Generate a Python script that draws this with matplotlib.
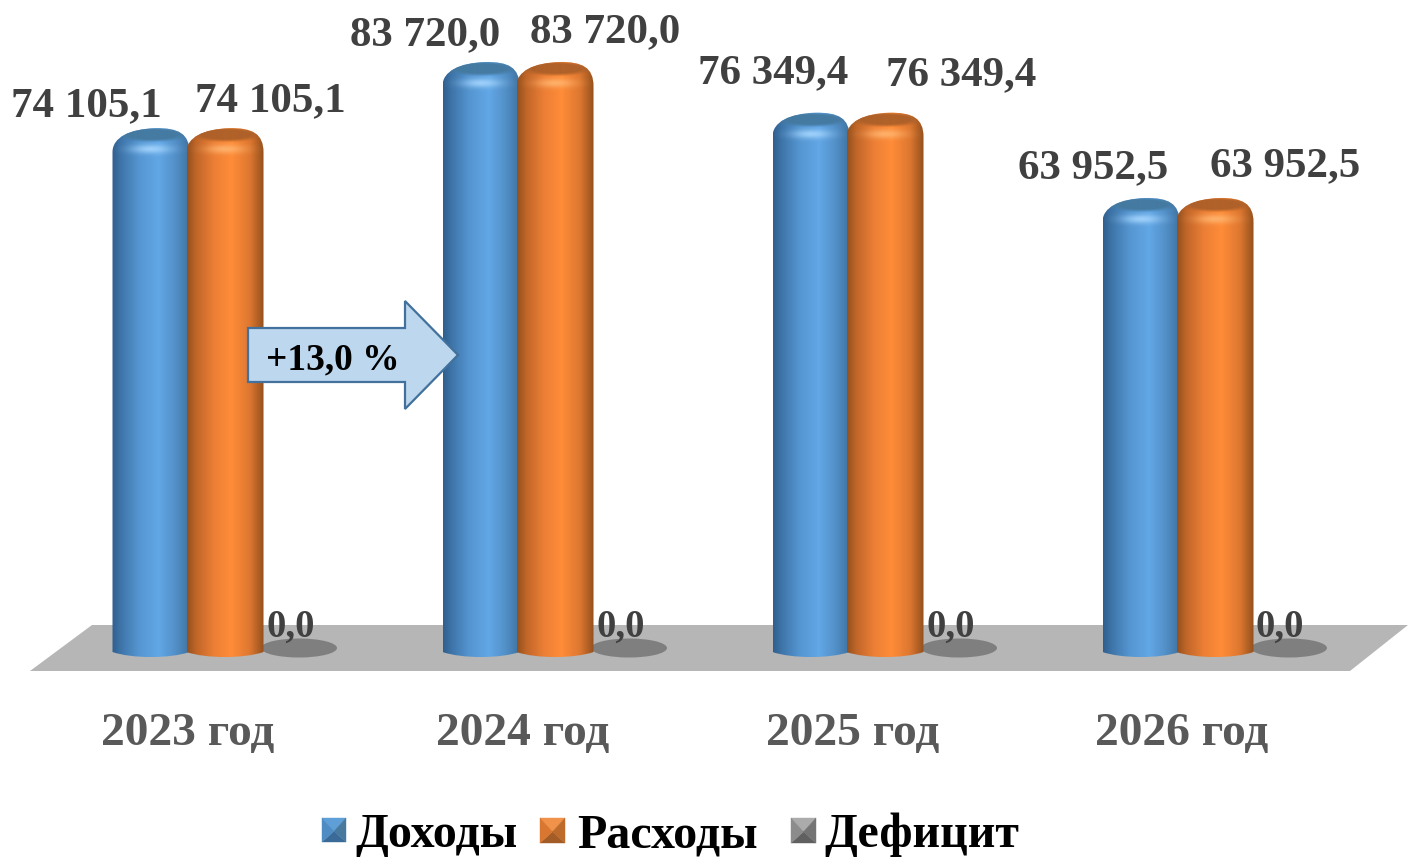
import numpy as np
import matplotlib
matplotlib.use("Agg")
import matplotlib.pyplot as plt
from matplotlib.path import Path
from matplotlib.patches import PathPatch, Polygon, Ellipse
from matplotlib.colors import LinearSegmentedColormap, to_rgb

years = ["2023 год", "2024 год", "2025 год", "2026 год"]
revenue = [74105.1, 83720.0, 76349.4, 63952.5]
expense = [74105.1, 83720.0, 76349.4, 63952.5]
deficit = [0.0, 0.0, 0.0, 0.0]
series_names = ["Доходы", "Расходы", "Дефицит"]
growth_label = "+13,0 %"

W, H = 1417, 859
PX_PER_VALUE = 0.00688
BASE_PY = 648
GROUP_PX = 330
ORIGIN_PX = 225

plt.rcParams["font.family"] = ["Liberation Serif", "DejaVu Serif"]
fig = plt.figure(figsize=(W / 100, H / 100), dpi=100)
ax = fig.add_axes([0, 0, 1, 1])
ax.set_xlim((0 - ORIGIN_PX) / GROUP_PX, (W - ORIGIN_PX) / GROUP_PX)
ax.set_ylim((BASE_PY - H) / PX_PER_VALUE, BASE_PY / PX_PER_VALUE)
ax.axis("off")

def dx(px):
    return px / GROUP_PX
def dy(px):
    return px / PX_PER_VALUE
def X(px):
    return (px - ORIGIN_PX) / GROUP_PX
def Y(py):
    return (BASE_PY - py) / PX_PER_VALUE
def pt(px):
    return px * 0.72

RX = 38.5
TOP_RISE = 10
SHOULDER = 24
BOTTOM_DROP = 9
BOTTOM_SIDE = 4

blue_cmap = LinearSegmentedColormap.from_list("b", [(0, "#2f5f8f"), (.12, "#3f76aa"), (.35, "#5596d2"), (.6, "#62a7e6"), (.82, "#528fc7"), (1, "#3f72a0")])
orange_cmap = LinearSegmentedColormap.from_list("o", [(0, "#95501c"), (.12, "#c0662a"), (.35, "#ec7f35"), (.58, "#ff8c38"), (.82, "#dd7730"), (1, "#93501d")])
CAP_BLUE = "#44799f"
CAP_ORANGE = "#ac6029"

def cylinder(xc, value, cmap, cap, z):
    r, rise = dx(RX), dy(TOP_RISE)
    top = value + rise
    sh = dy(SHOULDER)
    drop = dy(BOTTOM_DROP)
    side = dy(BOTTOM_SIDE)
    ctrl = -dy(10.7)
    peak = xc + dx(4)
    verts = [
        (xc - r, -side),
        (xc - r, top - sh),
        (xc - r, top - dy(9)), (xc - r * .55, top - dy(1)), (peak, top),
        (xc + r * .72, top + dy(.5)), (xc + r, top - dy(6)), (xc + r, top - sh),
        (xc + r, -side),
        (xc + r * .5, ctrl), (xc - r * .5, ctrl), (xc - r, -side),
        (xc - r, -side),
    ]
    codes = [Path.MOVETO, Path.LINETO, Path.CURVE4, Path.CURVE4, Path.CURVE4,
             Path.CURVE4, Path.CURVE4, Path.CURVE4, Path.LINETO,
             Path.CURVE4, Path.CURVE4, Path.CURVE4, Path.CLOSEPOLY]
    clip = PathPatch(Path(verts, codes), transform=ax.transData, fc="none", ec="none")
    ax.add_patch(clip)
    grad = np.linspace(0, 1, 256)[None, :]
    ext = (xc - r, xc + r, -drop, top + dy(1))
    im = ax.imshow(grad, cmap=cmap, extent=ext, aspect="auto", zorder=z, interpolation="bilinear")
    im.set_clip_path(clip)
    # dark cap with soft lower edge on the top of the cylinder
    n = 120
    u = np.linspace(-1, 1, n)
    xx, yy = np.meshgrid(u, u)
    rgba = np.ones((n, n, 4))
    rgba[..., :3] = to_rgb(cap)
    rgba[..., 3] = np.clip((1.05 - np.sqrt(xx ** 2 + yy ** 2)) / .4, 0, 1) * .95
    cp = ax.imshow(rgba, extent=(xc - r * .95, xc + r * 1.0, value - dy(4), value + dy(11)),
                   origin="lower", aspect="auto", zorder=z + .1, interpolation="bilinear")
    cp.set_clip_path(clip)
    # soft highlight under the cap rim
    light = np.ones((n, n, 4))
    light[..., :3] = to_rgb("#a9d8ff") if cap == CAP_BLUE else to_rgb("#ffb772")
    light[..., 3] = np.exp(-((xx / .5) ** 2 + (yy / .5) ** 2)) * .85
    hl = ax.imshow(light, extent=(xc - r, xc + r, value - dy(20), value - dy(2)),
                   aspect="auto", zorder=z + .2, interpolation="bilinear")
    hl.set_clip_path(clip)

# floor
ax.add_patch(Polygon([(X(30), Y(671)), (X(1350), Y(671)), (X(1408), Y(625)), (X(92), Y(625))],
                     closed=True, fc="#b6b6b6", ec="none", zorder=1))

blue_off, orange_off, grey_off = dx(-74), 0.0, dx(74)
for i, (a, b, d) in enumerate(zip(revenue, expense, deficit)):
    ax.add_patch(Ellipse((i + grey_off, d), 2 * dx(38), 2 * dy(9.5), fc="#7f7f7f", ec="none", zorder=2))
    cylinder(i + blue_off, a, blue_cmap, CAP_BLUE, 3)
    cylinder(i + orange_off, b, orange_cmap, CAP_ORANGE, 4)

# value labels
blue_lab = [(86, 106), (425, 35), (773, 73), (1093, 168)]
orange_lab = [(270, 101), (605, 32), (961, 75), (1285, 166)]
lab_kw = dict(ha="center", va="center", fontweight="bold", color="#404040", fontsize=pt(43), zorder=8)
fmt = lambda v: f"{v:,.1f}".replace(",", " ").replace(".", ",")
for i in range(4):
    ax.text(X(blue_lab[i][0]), Y(blue_lab[i][1]), fmt(revenue[i]), **lab_kw)
    ax.text(X(orange_lab[i][0]), Y(orange_lab[i][1]), fmt(expense[i]), **lab_kw)
    ax.text(i + dx(66) - dx(i * 0.3), deficit[i] + dy(21), fmt(deficit[i]), ha="center", va="center",
            fontweight="bold", color="#404040", fontsize=pt(38.5), zorder=8)

# category labels
cat_px = [188, 523, 853, 1182]
for y, px in zip(years, cat_px):
    ax.text(X(px), Y(734), y, ha="center", va="center", fontweight="bold",
            color="#595959", fontsize=pt(47.5), zorder=8)

# arrow
ax.add_patch(Polygon([(X(248), Y(328)), (X(405), Y(328)), (X(405), Y(301)), (X(458), Y(355)),
                      (X(405), Y(409)), (X(405), Y(382)), (X(248), Y(382))],
                     closed=True, fc="#bdd7ee", ec="#41719c", lw=1.6, zorder=7))
ax.text(X(333), Y(360), growth_label, ha="center", va="center", fontweight="bold",
        color="black", fontsize=pt(37.5), zorder=8)

# legend
def bevel(x0, y0, s, mid, light, dark, side):
    x1, y1 = x0 + s, y0 + s
    cx, cy = x0 + s / 2, y0 + s * .55
    parts = [([(x0, y0), (x1, y0), (cx, cy)], light),
             ([(x0, y1), (x1, y1), (cx, cy)], dark),
             ([(x0, y0), (x0, y1), (cx, cy)], mid),
             ([(x1, y0), (x1, y1), (cx, cy)], side)]
    for pts, col in parts:
        ax.add_patch(Polygon([(X(a), Y(b)) for a, b in pts], closed=True, fc=col, ec=col, lw=.3, zorder=8))

bevel(322, 818, 24, "#4f8cc4", "#5f9fd8", "#3a6a98", "#47799f")
bevel(540, 818, 25, "#d9762f", "#f0924a", "#a35c25", "#bd6a2b")
bevel(791, 818, 25, "#8c8c8c", "#ababab", "#606060", "#747474")
for name, px in zip(series_names, [355, 577, 824]):
    ax.text(X(px), Y(835), name, ha="left", va="center", fontweight="bold",
            color="black", fontsize=pt(48), zorder=8)

ax.set_xlim((0 - ORIGIN_PX) / GROUP_PX, (W - ORIGIN_PX) / GROUP_PX)
ax.set_ylim((BASE_PY - H) / PX_PER_VALUE, BASE_PY / PX_PER_VALUE)
fig.savefig("out.png", dpi=100, facecolor="white")
